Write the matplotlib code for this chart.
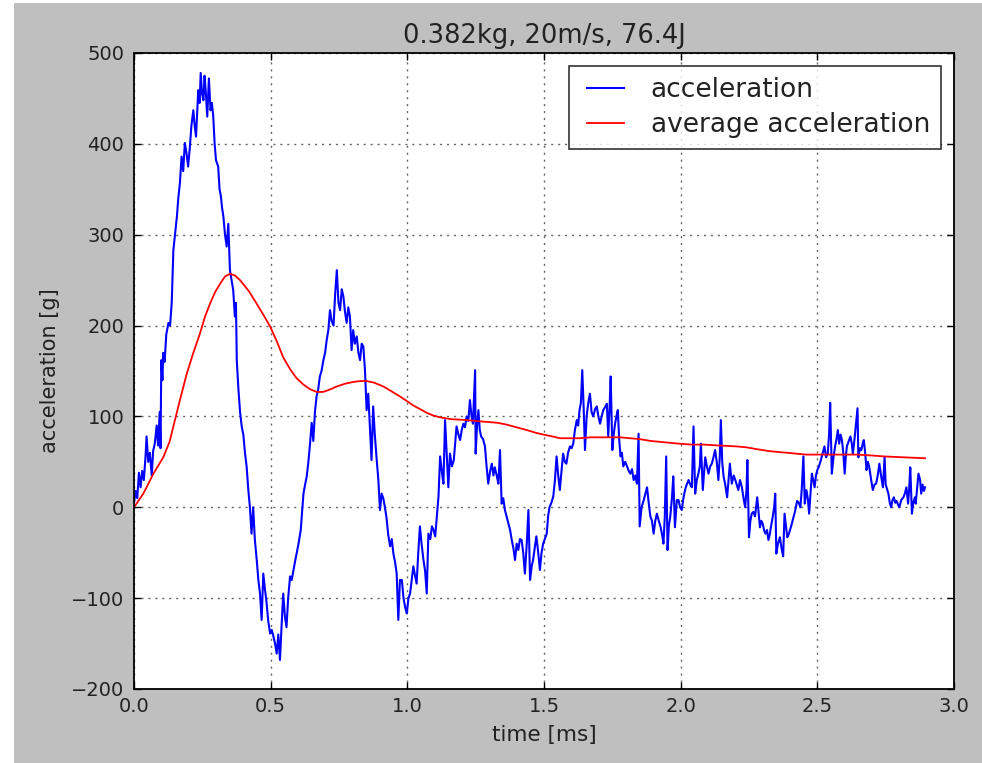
import matplotlib
matplotlib.use('Agg')
import matplotlib.pyplot as plt
from matplotlib.patches import Rectangle
from matplotlib.ticker import FormatStrFormatter
from matplotlib.legend_handler import HandlerLine2D
from matplotlib.lines import Line2D
import numpy as np

# --- 読み取った値 (time [ms], acceleration [g]) ---
accel_points = [
    (0.000, 5), (0.006, 18), (0.012, 10), (0.018, 38), (0.024, 22), (0.030, 40), (0.036, 30), (0.042, 55),
    (0.046, 78), (0.052, 50), (0.058, 60), (0.065, 35), (0.070, 62), (0.076, 70), (0.083, 90), (0.088, 68),
    (0.094, 105), (0.097, 65), (0.100, 162), (0.104, 140), (0.107, 170), (0.112, 160), (0.118, 190), (0.126, 203),
    (0.132, 200), (0.138, 225), (0.144, 283), (0.150, 300), (0.157, 320), (0.162, 340), (0.168, 357), (0.174, 386),
    (0.180, 370), (0.186, 401), (0.192, 390), (0.198, 375), (0.204, 395), (0.210, 420), (0.217, 437), (0.222, 420),
    (0.227, 408), (0.232, 440), (0.235, 459), (0.240, 445), (0.244, 478), (0.249, 455), (0.254, 448), (0.258, 475),
    (0.262, 460), (0.268, 430), (0.274, 472), (0.280, 437), (0.285, 445), (0.290, 430), (0.295, 400), (0.300, 382),
    (0.308, 375), (0.313, 350), (0.318, 342), (0.322, 330), (0.327, 320), (0.333, 300), (0.339, 287), (0.345, 312),
    (0.351, 261), (0.357, 250), (0.363, 239), (0.369, 210), (0.373, 225), (0.376, 162), (0.382, 130), (0.388, 105),
    (0.394, 89), (0.400, 80), (0.406, 60), (0.412, 45), (0.418, 20), (0.424, 0), (0.430, -29), (0.436, 0),
    (0.442, -35), (0.449, -58), (0.455, -80), (0.461, -95), (0.467, -124), (0.473, -73), (0.479, -90), (0.485, -105),
    (0.491, -125), (0.498, -139), (0.504, -135), (0.510, -142), (0.516, -150), (0.522, -161), (0.528, -140), (0.534, -168),
    (0.540, -130), (0.546, -95), (0.552, -120), (0.558, -132), (0.564, -100), (0.571, -76), (0.577, -80), (0.583, -70),
    (0.589, -60), (0.595, -51), (0.602, -40), (0.610, -25), (0.615, -5), (0.620, 15), (0.626, 25), (0.632, 34),
    (0.638, 50), (0.644, 70), (0.650, 93), (0.656, 73), (0.662, 105), (0.668, 122), (0.674, 130), (0.680, 144),
    (0.686, 150), (0.693, 162), (0.699, 170), (0.705, 184), (0.711, 195), (0.717, 217), (0.723, 205), (0.730, 200),
    (0.736, 235), (0.742, 261), (0.748, 225), (0.754, 217), (0.760, 240), (0.766, 232), (0.772, 215), (0.778, 203),
    (0.784, 220), (0.790, 210), (0.796, 173), (0.802, 195), (0.808, 180), (0.815, 188), (0.821, 170), (0.827, 162),
    (0.833, 180), (0.839, 177), (0.845, 151), (0.851, 107), (0.857, 125), (0.863, 89), (0.869, 52), (0.875, 111),
    (0.881, 80), (0.888, 52), (0.894, 30), (0.900, -3), (0.906, 15), (0.912, 10), (0.918, 0), (0.924, -12),
    (0.930, -30), (0.937, -43), (0.943, -35), (0.949, -51), (0.955, -60), (0.961, -73), (0.967, -124), (0.973, -80),
    (0.980, -80), (0.986, -100), (0.992, -110), (0.998, -117), (1.004, -100), (1.010, -95), (1.016, -80), (1.022, -65),
    (1.028, -75), (1.034, -84), (1.040, -50), (1.046, -21), (1.052, -40), (1.059, -58), (1.065, -70), (1.071, -95),
    (1.077, -29), (1.084, -35), (1.090, -21), (1.096, -25), (1.102, -32), (1.108, -10), (1.114, 12), (1.120, 56),
    (1.126, 40), (1.132, 26), (1.138, 96), (1.144, 60), (1.150, 22), (1.156, 59), (1.163, 45), (1.170, 52),
    (1.175, 70), (1.180, 89), (1.187, 80), (1.193, 74), (1.199, 85), (1.205, 92), (1.211, 88), (1.217, 100),
    (1.223, 95), (1.229, 118), (1.235, 100), (1.240, 92), (1.248, 151), (1.250, 59), (1.255, 90), (1.260, 107),
    (1.265, 85), (1.270, 78), (1.277, 75), (1.284, 67), (1.290, 45), (1.296, 26), (1.303, 40), (1.309, 48),
    (1.315, 35), (1.320, 44), (1.327, 35), (1.333, 26), (1.339, 63), (1.345, 4), (1.351, 10), (1.357, -3),
    (1.363, -10), (1.370, -18), (1.376, -25), (1.382, -36), (1.388, -45), (1.394, -58), (1.400, -40), (1.406, -47),
    (1.412, -35), (1.418, -36), (1.424, -50), (1.430, -73), (1.437, -40), (1.443, -3), (1.449, -80), (1.455, -65),
    (1.460, -58), (1.466, -45), (1.472, -32), (1.479, -50), (1.485, -69), (1.491, -50), (1.497, -40), (1.503, -35),
    (1.510, -29), (1.515, -10), (1.520, 0), (1.527, 5), (1.534, 12), (1.540, 30), (1.546, 56), (1.552, 35),
    (1.558, 19), (1.564, 40), (1.570, 59), (1.576, 50), (1.582, 48), (1.588, 60), (1.595, 67), (1.601, 65),
    (1.607, 70), (1.613, 85), (1.620, 96), (1.625, 90), (1.630, 107), (1.635, 115), (1.640, 151), (1.645, 110),
    (1.650, 63), (1.656, 100), (1.662, 115), (1.668, 125), (1.674, 105), (1.680, 100), (1.687, 108), (1.693, 111),
    (1.699, 100), (1.705, 92), (1.711, 100), (1.717, 107), (1.723, 110), (1.730, 114), (1.735, 78), (1.740, 110),
    (1.744, 144), (1.750, 63), (1.755, 80), (1.760, 92), (1.765, 100), (1.770, 107), (1.775, 75), (1.780, 56),
    (1.785, 60), (1.790, 45), (1.797, 50), (1.804, 45), (1.810, 40), (1.816, 37), (1.822, 42), (1.828, 30),
    (1.834, 35), (1.840, 26), (1.846, 81), (1.850, -21), (1.857, 0), (1.865, 8), (1.871, 15), (1.877, 22),
    (1.883, 5), (1.889, -10), (1.895, -15), (1.901, -29), (1.907, -15), (1.913, -7), (1.920, -15), (1.926, -21),
    (1.932, -30), (1.937, -40), (1.942, -10), (1.947, 56), (1.952, -47), (1.957, -20), (1.962, -10), (1.968, 10),
    (1.973, 34), (1.979, -22), (1.986, 8), (1.992, 8), (1.998, 0), (2.004, -3), (2.010, 10), (2.016, 19),
    (2.022, 25), (2.029, 30), (2.035, 25), (2.041, 22), (2.047, 89), (2.053, 15), (2.059, 30), (2.065, 37),
    (2.070, 45), (2.074, 70), (2.081, 19), (2.086, 40), (2.090, 55), (2.096, 45), (2.102, 37), (2.108, 45),
    (2.114, 48), (2.120, 55), (2.126, 63), (2.132, 50), (2.138, 30), (2.143, 55), (2.147, 96), (2.152, 50),
    (2.157, 34), (2.163, 25), (2.170, 11), (2.175, 30), (2.180, 48), (2.184, 35), (2.187, 26), (2.194, 35),
    (2.200, 30), (2.205, 25), (2.211, 19), (2.217, 30), (2.224, 22), (2.230, 10), (2.236, 0), (2.241, 20),
    (2.244, 52), (2.250, -33), (2.255, -15), (2.260, -7), (2.266, -5), (2.272, -10), (2.276, 0), (2.280, 11),
    (2.285, -5), (2.290, -22), (2.295, -15), (2.300, -18), (2.305, -25), (2.310, -29), (2.316, -25), (2.321, -36),
    (2.326, -30), (2.330, -22), (2.337, -10), (2.342, 0), (2.346, 15), (2.350, -51), (2.356, -40), (2.363, -33),
    (2.369, -45), (2.375, -54), (2.380, -7), (2.385, -20), (2.390, -33), (2.395, -30), (2.400, -25), (2.405, -20),
    (2.410, -14), (2.418, -5), (2.426, 7), (2.432, 5), (2.438, 0), (2.443, 20), (2.449, 56), (2.454, 4),
    (2.460, 19), (2.465, 10), (2.470, -7), (2.475, 15), (2.480, 37), (2.485, 30), (2.490, 22), (2.495, 35),
    (2.500, 41), (2.506, 45), (2.513, 52), (2.520, 60), (2.526, 67), (2.532, 55), (2.538, 59), (2.543, 80),
    (2.547, 115), (2.553, 37), (2.559, 55), (2.565, 67), (2.570, 75), (2.575, 85), (2.580, 70), (2.585, 80),
    (2.590, 74), (2.595, 60), (2.600, 37), (2.604, 55), (2.608, 67), (2.614, 72), (2.621, 78), (2.626, 70),
    (2.630, 59), (2.636, 75), (2.641, 90), (2.647, 109), (2.650, 55), (2.656, 65), (2.661, 63), (2.666, 70),
    (2.670, 74), (2.675, 60), (2.680, 41), (2.685, 50), (2.690, 44), (2.697, 30), (2.703, 19), (2.709, 25),
    (2.715, 26), (2.721, 35), (2.727, 48), (2.733, 35), (2.740, 22), (2.746, 55), (2.750, 25), (2.755, 20),
    (2.760, 15), (2.765, 5), (2.770, 0), (2.775, 8), (2.780, 11), (2.785, 5), (2.790, 7), (2.795, 3),
    (2.800, 0), (2.807, 8), (2.815, 11), (2.820, 15), (2.826, 22), (2.832, 4), (2.836, 20), (2.840, 44),
    (2.846, -7), (2.851, 5), (2.857, 11), (2.860, 4), (2.865, 20), (2.870, 37), (2.876, 30), (2.880, 15),
    (2.885, 25), (2.890, 18), (2.894, 22),
]

# 平均加速度 (赤線)
avg_points = [
    (0.000, 0), (0.034, 15), (0.071, 37), (0.107, 55), (0.130, 72), (0.144, 89), (0.168, 118), (0.193, 147),
    (0.217, 170), (0.241, 191), (0.260, 210), (0.278, 224), (0.297, 237), (0.315, 246), (0.333, 254), (0.351, 257),
    (0.370, 255), (0.388, 250), (0.420, 238), (0.449, 224), (0.475, 211), (0.498, 199), (0.522, 183), (0.546, 165),
    (0.571, 152), (0.595, 142), (0.620, 135), (0.644, 130), (0.668, 127), (0.693, 127), (0.720, 130), (0.742, 133),
    (0.772, 136), (0.803, 138), (0.830, 139), (0.851, 139), (0.880, 137), (0.912, 133), (0.940, 128), (0.973, 122),
    (1.003, 116), (1.022, 112), (1.047, 108), (1.071, 104), (1.095, 101), (1.120, 99), (1.160, 97), (1.217, 96),
    (1.250, 95), (1.290, 94), (1.330, 93), (1.363, 91), (1.400, 88), (1.437, 85), (1.470, 82), (1.498, 80),
    (1.530, 78), (1.558, 76), (1.600, 76), (1.632, 76), (1.670, 77), (1.705, 77), (1.740, 77), (1.778, 77),
    (1.815, 76), (1.851, 75), (1.890, 73), (1.925, 72), (1.960, 71), (1.995, 70), (2.040, 69), (2.083, 69),
    (2.140, 68), (2.205, 67), (2.240, 66), (2.278, 64), (2.320, 62), (2.351, 61), (2.390, 60), (2.424, 59),
    (2.460, 58), (2.498, 58), (2.571, 58), (2.644, 58), (2.700, 57), (2.742, 56), (2.815, 55), (2.894, 54),
]

title_text = '0.382kg, 20m/s, 76.4J'
x_ticks = [0.0, 0.5, 1.0, 1.5, 2.0, 2.5, 3.0]
y_ticks = [-200, -100, 0, 100, 200, 300, 400, 500]

acc_t, acc_g = zip(*accel_points)
avg_t, avg_g = zip(*avg_points)


# 凡例の線を少し右に寄せる (左に余白を残す)
class InsetLineHandler(HandlerLine2D):
    def get_xdata(self, legend, xdescent, ydescent, width, height, fontsize):
        inset = 0.17 * width
        xdata = np.array([-xdescent + inset, -xdescent + width])
        return xdata, xdata


# --- 図の設定 ---
W, H = 982, 763
fig = plt.figure(figsize=(W / 100, H / 100), dpi=100, facecolor='white')
# 灰色の背景 (左と上に白い余白がある)
fig.add_artist(Rectangle((14 / W, 0), 1 - 14 / W, 760 / H, transform=fig.transFigure,
                         facecolor='#bfbfbf', edgecolor='none', zorder=-10))

ax = fig.add_axes([134 / W, (H - 689) / H, 820 / W, 636 / H])
ax.set_facecolor('white')

line_acc, = ax.plot(acc_t, acc_g, color='#0000ff', lw=1.5, label='acceleration')
line_avg, = ax.plot(avg_t, avg_g, color='#ff0000', lw=1.3, label='average acceleration')

ax.set_xlim(0, 3)
ax.set_ylim(-200, 500)
ax.set_xticks(x_ticks)
ax.set_yticks(y_ticks)
ax.xaxis.set_major_formatter(FormatStrFormatter('%.1f'))

ax.grid(True, color='0.4', linestyle=(0, (1.5, 3.5)), linewidth=1.0)
ax.set_axisbelow(True)
for s in ax.spines.values():
    s.set_linewidth(1.3)
    s.set_color('black')

ax.tick_params(direction='in', length=5, width=1, top=True, right=True,
               labelsize=14, colors='black', labelcolor='#222222')
ax.tick_params(axis='x', pad=6)
ax.tick_params(axis='y', pad=7)

ax.set_title(title_text, fontsize=18.5, color='#222222', pad=7)
ax.set_xlabel('time [ms]', fontsize=15.5, color='#222222', labelpad=6)
ax.set_ylabel('acceleration [g]', fontsize=15, color='#222222', labelpad=8)

leg = ax.legend(loc='upper right', fontsize=19, frameon=True, fancybox=False,
                borderpad=0.4, borderaxespad=0.5, handlelength=1.72, handletextpad=1.0,
                labelspacing=0.35, handler_map={Line2D: InsetLineHandler()})
leg.get_frame().set_edgecolor('black')
leg.get_frame().set_linewidth(1.2)
for t in leg.get_texts():
    t.set_color('#222222')

fig.savefig('out.png', dpi=100, facecolor=fig.get_facecolor())
